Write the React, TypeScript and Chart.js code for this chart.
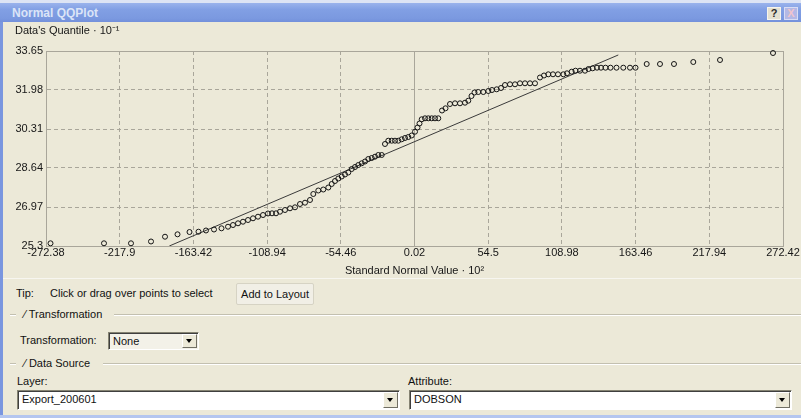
import React, { useEffect, useRef } from "react";
import { Chart, registerables } from "chart.js";

Chart.register(...registerables);

// ---- Data (Normal QQ plot) ----
const xTicks = [-272.38, -217.9, -163.42, -108.94, -54.46, 0.02, 54.5, 108.98, 163.46, 217.94, 272.42];
const xTickLabels = ["-272.38", "-217.9", "-163.42", "-108.94", "-54.46", "0.02", "54.5", "108.98", "163.46", "217.94", "272.42"];
const yTicks = [25.3, 26.97, 28.64, 30.31, 31.98, 33.65];
const yTickLabels = ["25.3", "26.97", "28.64", "30.31", "31.98", "33.65"];

const qqX = [
  -269.05, -229.51, -209.55, -194.76, -184.41, -175.17, -166.3, -159.65, -154.11, -148.19,
  -142.65, -137.84, -134.15, -130.45, -126.76, -123.06, -119.36, -115.67, -111.97, -108.28,
  -105.32, -102.36, -99.41, -95.71, -92.01, -88.32, -84.62, -80.92, -77.23, -74.79,
  -71.1, -67.4, -63.7, -61.19, -58.75, -56.31, -53.8, -51.36, -48.92, -46.4,
  -43.96, -41.52, -39.01, -36.57, -34.13, -31.62, -29.18, -26.74, -24.23, -21.79,
  -19.35, -16.83, -14.4, -11.96, -9.44, -7.01, -4.57, -2.05, 0.39, 2.24,
  3.72, 5.34, 7.78, 10.22, 12.73, 15.17, 17.61, 20.35, 22.94, 26.26,
  29.96, 33.65, 37.35, 39.79, 42.15, 44.37, 47.18, 50.88, 54.57, 57.31,
  60.78, 63.96, 66.91, 70.61, 74.31, 78.0, 81.7, 85.4, 89.09, 92.79,
  95.74, 98.92, 102.4, 106.09, 110.01, 112.74, 116.22, 119.03, 122.35, 126.05,
  128.64, 131.74, 134.92, 137.88, 141.21, 144.9, 149.34, 154.36, 159.32, 163.39,
  171.66, 181.49, 191.84, 206.11, 225.85, 265.03,
];
const qqY = [
  25.416, 25.416, 25.416, 25.493, 25.698, 25.801, 25.899, 25.912, 25.964, 26.006,
  26.058, 26.126, 26.199, 26.272, 26.34, 26.413, 26.486, 26.555, 26.627, 26.692,
  26.7, 26.7, 26.769, 26.841, 26.914, 26.957, 27.098, 27.154, 27.27, 27.527,
  27.676, 27.719, 27.805, 27.955, 28.083, 28.19, 28.276, 28.362, 28.447, 28.597,
  28.683, 28.768, 28.841, 28.918, 29.025, 29.068, 29.124, 29.197, 29.197, 29.668,
  29.809, 29.809, 29.809, 29.809, 29.869, 29.925, 29.967, 30.032, 30.194, 30.374,
  30.545, 30.725, 30.768, 30.768, 30.768, 30.768, 30.768, 31.102, 31.196, 31.38,
  31.41, 31.41, 31.436, 31.522, 31.723, 31.873, 31.894, 31.894, 31.937, 31.98,
  32.01, 32.066, 32.194, 32.224, 32.224, 32.267, 32.267, 32.267, 32.267, 32.515,
  32.601, 32.652, 32.652, 32.652, 32.652, 32.695, 32.764, 32.806, 32.806, 32.806,
  32.879, 32.909, 32.935, 32.935, 32.935, 32.935, 32.935, 32.935, 32.935, 32.935,
  33.093, 33.093, 33.093, 33.179, 33.265, 33.564,
];

const refLineX = [-181.24, 150.66];
const refLineY = [25.3, 33.48];

const FONT = "'Liberation Sans', Arial, sans-serif";
const GRID = "#a9a69a";

function dashFor(ticks: number[]) {
  return (ctx: any) => {
    if (ctx.type !== "tick") return [];
    const i = ctx.index;
    if (i === 0 || i === ticks.length - 1) return [];
    if (ticks[i] === 0.02) return [];
    return [4, 3];
  };
}

function QQChart() {
  const ref = useRef<HTMLCanvasElement | null>(null);
  useEffect(() => {
    if (!ref.current) return;
    Chart.defaults.font.family = FONT;
    Chart.defaults.font.size = 11;
    Chart.defaults.color = "#161616";
    const points = qqX.map((x, i) => ({ x, y: qqY[i] }));
    const line = refLineX.map((x, i) => ({ x, y: refLineY[i] }));
    const chart = new Chart(ref.current, {
      type: "scatter",
      data: {
        datasets: [
          {
            data: points,
            pointStyle: "circle",
            pointRadius: 2.5,
            pointBorderWidth: 1,
            borderColor: "#141414",
            backgroundColor: "rgba(0,0,0,0)",
            clip: 5,
          } as any,
          {
            data: line,
            showLine: true,
            pointRadius: 0,
            borderColor: "#3a3a3a",
            borderWidth: 1,
          } as any,
        ],
      },
      options: {
        responsive: false,
        animation: false,
        devicePixelRatio: 1,
        layout: { padding: { left: 15, right: 18, top: 0, bottom: 0 } },
        plugins: {
          legend: { display: false },
          tooltip: { enabled: false },
          title: {
            display: true,
            text: "Data's Quantile · 10⁻¹",
            align: "start",
            color: "#161616",
            font: { family: FONT, size: 11, weight: "normal" },
            padding: { top: 2, bottom: 13.8 },
          },
        },
        scales: {
          x: {
            type: "linear",
            min: -272.38,
            max: 272.42,
            afterBuildTicks: (scale: any) => {
              scale.ticks = xTicks.map((v) => ({ value: v }));
            },
            afterFit: (scale: any) => {
              scale.height = 32;
              scale.paddingLeft = 0;
              scale.paddingRight = 0;
            },
            ticks: {
              autoSkip: false,
              maxRotation: 0,
              minRotation: 0,
              padding: 0,
              color: "#161616",
              font: { family: FONT, size: 11 },
              callback: (_v: any, i: number) => xTickLabels[i],
            },
            grid: { color: GRID, lineWidth: 1, drawTicks: false },
            border: { display: true, color: GRID, width: 1, dash: dashFor(xTicks) as any },
            title: {
              display: true,
              text: "Standard Normal Value · 10²",
              color: "#161616",
              font: { family: FONT, size: 11 },
              padding: { top: 0, bottom: 0 },
            },
          },
          y: {
            type: "linear",
            min: 25.3,
            max: 33.65,
            afterBuildTicks: (scale: any) => {
              scale.ticks = yTicks.map((v) => ({ value: v }));
            },
            afterFit: (scale: any) => {
              scale.width = 31;
              scale.paddingTop = 0;
              scale.paddingBottom = 0;
            },
            ticks: {
              autoSkip: false,
              padding: 3,
              color: "#161616",
              font: { family: FONT, size: 11 },
              callback: (_v: any, i: number) => yTickLabels[i],
            },
            grid: { color: GRID, lineWidth: 1, drawTicks: false },
            border: { display: true, color: GRID, width: 1, dash: dashFor(yTicks) as any },
          },
        },
      } as any,
    });
    return () => chart.destroy();
  }, []);
  return (
    <canvas
      ref={ref}
      width={801}
      height={256}
      style={{ position: "absolute", left: 0, top: 22, width: 801, height: 256, display: "block" }}
    />
  );
}

const etchTop = { borderTop: "1px solid #c3c0b0", borderBottom: "1px solid #ffffff" };

function Arrow() {
  return (
    <div
      style={{
        position: "absolute",
        left: "50%",
        top: "50%",
        marginLeft: -3.5,
        marginTop: -2,
        width: 0,
        height: 0,
        borderLeft: "3.5px solid transparent",
        borderRight: "3.5px solid transparent",
        borderTop: "4px solid #000",
      }}
    />
  );
}

function Combo(props: { left: number; top: number; width: number; height: number; text: string; bg: string }) {
  const { left, top, width, height, text, bg } = props;
  return (
    <div
      style={{
        position: "absolute",
        left,
        top,
        width,
        height,
        boxSizing: "border-box",
        background: bg,
        borderTop: "1px solid #858372",
        borderLeft: "1px solid #858372",
        borderRight: "1px solid #ffffff",
        borderBottom: "1px solid #ffffff",
        boxShadow: "inset 1px 1px 0 #3f3f3f",
      }}
    >
      <span style={{ position: "absolute", left: 4, top: 2, lineHeight: "13px", fontSize: 11 }}>{text}</span>
      <div
        style={{
          position: "absolute",
          right: 1,
          top: 1,
          bottom: 1,
          width: 15,
          boxSizing: "border-box",
          background: "#ECE9D8",
          borderTop: "1px solid #ffffff",
          borderLeft: "1px solid #ffffff",
          borderRight: "1px solid #716f64",
          borderBottom: "1px solid #716f64",
        }}
      >
        <Arrow />
      </div>
    </div>
  );
}

function Label(props: { left: number; top: number; children: React.ReactNode }) {
  return (
    <div style={{ position: "absolute", left: props.left, top: props.top, lineHeight: "13px", fontSize: 11, whiteSpace: "nowrap" }}>
      {props.children}
    </div>
  );
}

export default function App() {
  return (
    <div
      style={{
        position: "fixed",
        left: 0,
        top: 0,
        width: 801,
        height: 418,
        overflow: "hidden",
        background: "#ECE9D8",
        fontFamily: FONT,
        fontSize: 11,
        color: "#111",
      }}
    >
      {/* title bar */}
      <div style={{ position: "absolute", left: 0, top: 0, width: 801, height: 3, background: "#dde4f4" }} />
      <div
        style={{
          position: "absolute",
          left: 0,
          top: 3,
          width: 801,
          height: 19,
          background: "linear-gradient(#9ab3ec, #819fe4 35%, #7b99e0 80%, #7390db)",
        }}
      />
      <div
        style={{
          position: "absolute",
          left: 12,
          top: 6,
          lineHeight: "15px",
          fontSize: 12,
          fontWeight: "bold",
          color: "#dbe4f7",
          whiteSpace: "nowrap",
        }}
      >
        Normal QQPlot
      </div>
      <div
        style={{
          position: "absolute",
          left: 767,
          top: 7,
          width: 14,
          height: 13,
          boxSizing: "border-box",
          background: "#e4e0d0",
          border: "1px solid #f6f4ec",
          color: "#2a2a2a",
          fontWeight: "bold",
          fontSize: 11,
          lineHeight: "11px",
          textAlign: "center",
        }}
      >
        ?
      </div>
      <div
        style={{
          position: "absolute",
          left: 784,
          top: 7,
          width: 14,
          height: 13,
          boxSizing: "border-box",
          background: "#b3b8e6",
          border: "1px solid #d8dcf4",
          color: "#f0c4cc",
          fontWeight: "bold",
          fontSize: 11,
          lineHeight: "11px",
          textAlign: "center",
        }}
      >
        X
      </div>

      {/* window borders */}
      <div style={{ position: "absolute", left: 0, top: 22, width: 3, height: 396, background: "#7a96df" }} />
      <div style={{ position: "absolute", left: 0, top: 415, width: 801, height: 3, background: "#b4c6ef" }} />

      <QQChart />

      {/* separator under plot */}
      <div style={{ position: "absolute", left: 3, top: 278, width: 798, height: 0, borderTop: "1px solid #f7f6f0" }} />

      <Label left={16} top={287}>Tip:</Label>
      <Label left={50} top={287}>Click or drag over points to select</Label>
      <div
        style={{
          position: "absolute",
          left: 236,
          top: 283,
          width: 78,
          height: 22,
          boxSizing: "border-box",
          background: "#f1efe6",
          border: "1px solid #d6d3c4",
          borderRadius: 2,
          textAlign: "center",
          lineHeight: "20px",
          fontSize: 11,
        }}
      >
        Add to Layout
      </div>

      {/* Transformation group */}
      <div style={{ position: "absolute", left: 10, top: 314, width: 6, height: 0, ...etchTop }} />
      <Label left={24} top={308}>⁄ Transformation</Label>
      <div style={{ position: "absolute", left: 114, top: 314, width: 687, height: 0, ...etchTop }} />
      <Label left={20} top={334}>Transformation:</Label>
      <Combo left={108} top={332} width={91} height={18} text="None" bg="#f3f1e8" />

      {/* Data Source group */}
      <div style={{ position: "absolute", left: 10, top: 363, width: 6, height: 0, ...etchTop }} />
      <Label left={24} top={357}>⁄ Data Source</Label>
      <div style={{ position: "absolute", left: 103, top: 363, width: 698, height: 0, ...etchTop }} />

      <Label left={17} top={375}>Layer:</Label>
      <Label left={408} top={375}>Attribute:</Label>
      <Combo left={17} top={390} width={383} height={20} text="Export_200601" bg="#ffffff" />
      <Combo left={409} top={390} width={383} height={20} text="DOBSON" bg="#ffffff" />
    </div>
  );
}
